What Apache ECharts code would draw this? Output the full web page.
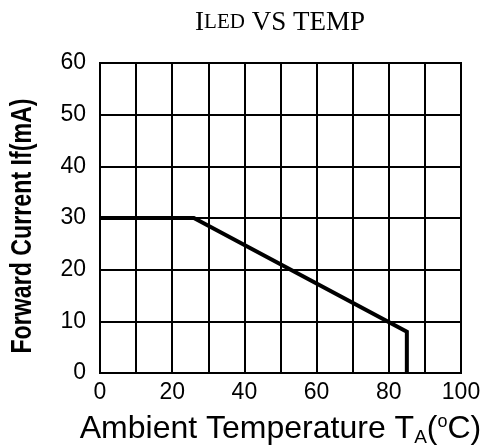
<!DOCTYPE html>
<html>
<head>
<meta charset="utf-8">
<script src="https://cdn.jsdelivr.net/npm/echarts@6/dist/echarts.min.js"></script>
<style>
html,body{margin:0;padding:0;background:#fff;}
#c{width:485px;height:448px;}
</style>
</head>
<body>
<div id="c"></div>
<script>
// Data
const temps = [0, 26, 85, 85];          // Ambient temperature (°C)
const currents = [30, 30, 8, 0];        // Forward current If (mA)
const xTickLabels = [0, 20, 40, 60, 80, 100];
const yTickLabels = [0, 10, 20, 30, 40, 50, 60];
const yTitle = 'Forward Current If(mA)';

const chart = echarts.init(document.getElementById('c'), null, {renderer: 'canvas'});
const seriesData = temps.map((t, i) => [t, currents[i]]);

chart.setOption({
  backgroundColor: '#ffffff',
  animation: false,
  title: {
    text: '{a|I}{b|LED}{a| VS TEMP}',
    left: 275, textAlign: 'center',
    top: 4,
    textStyle: {
      fontWeight: 'normal',
      rich: {
        a: {fontFamily: '"Liberation Serif", "Times New Roman", serif', fontSize: 27, fontWeight: 'normal', color: '#000'},
        b: {fontFamily: '"Liberation Serif", "Times New Roman", serif', fontSize: 21, fontWeight: 'normal', color: '#000'}
      }
    }
  },
  grid: {
    left: 100, right: 24, top: 63, bottom: 75,
    show: true, borderColor: '#000', borderWidth: 2,
    containLabel: false, outerBoundsMode: 'none'
  },
  graphic: [{
    type: 'text',
    x: 23, y: 226,
    rotation: Math.PI / 2,
    scaleX: 0.8,
    style: {
      text: yTitle,
      fontFamily: '"Liberation Sans", Arial, sans-serif',
      fontWeight: 'bold', fontSize: 29, fill: '#000',
      align: 'center', verticalAlign: 'middle'
    }
  }],
  xAxis: {
    type: 'value', min: 0, max: 100, interval: 10,
    name: '{n|Ambient Temperature T}{s|A}{n|(}{o|o}{n|C)}',
    nameLocation: 'middle', nameGap: 40,
    nameTextStyle: {
      rich: {
        n: {fontFamily: '"Liberation Sans", Arial, sans-serif', fontSize: 32, color: '#000', verticalAlign: 'bottom'},
        s: {fontFamily: '"Liberation Sans", Arial, sans-serif', fontSize: 19, color: '#000', verticalAlign: 'bottom', padding: [0,0,-2,0]},
        o: {fontFamily: '"Liberation Sans", Arial, sans-serif', fontSize: 18, color: '#000', verticalAlign: 'top', padding: [0,0,8,0]}
      }
    },
    axisLine: {show: true, lineStyle: {color: '#000', width: 2}},
    axisTick: {show: false},
    axisLabel: {
      margin: 8, color: '#000', fontSize: 23,
      fontFamily: '"Liberation Sans", Arial, sans-serif',
      formatter: v => xTickLabels.includes(v) ? String(v) : ''
    },
    splitLine: {show: true, lineStyle: {color: '#000', width: 2}}
  },
  yAxis: {
    type: 'value', min: 0, max: 60, interval: 10,
    axisLine: {show: true, lineStyle: {color: '#000', width: 2}},
    axisTick: {show: false},
    axisLabel: {
      margin: 14, color: '#000', fontSize: 23,
      fontFamily: '"Liberation Sans", Arial, sans-serif',
      padding: [0, 0, 5, 0],
      formatter: v => yTickLabels.includes(v) ? String(v) : ''
    },
    splitLine: {show: true, lineStyle: {color: '#000', width: 2}}
  },
  series: [{
    type: 'line',
    data: seriesData,
    showSymbol: false,
    symbol: 'none',
    lineStyle: {color: '#000', width: 4, cap: 'butt', join: 'miter'},
    z: 5
  }]
});
</script>
</body>
</html>
